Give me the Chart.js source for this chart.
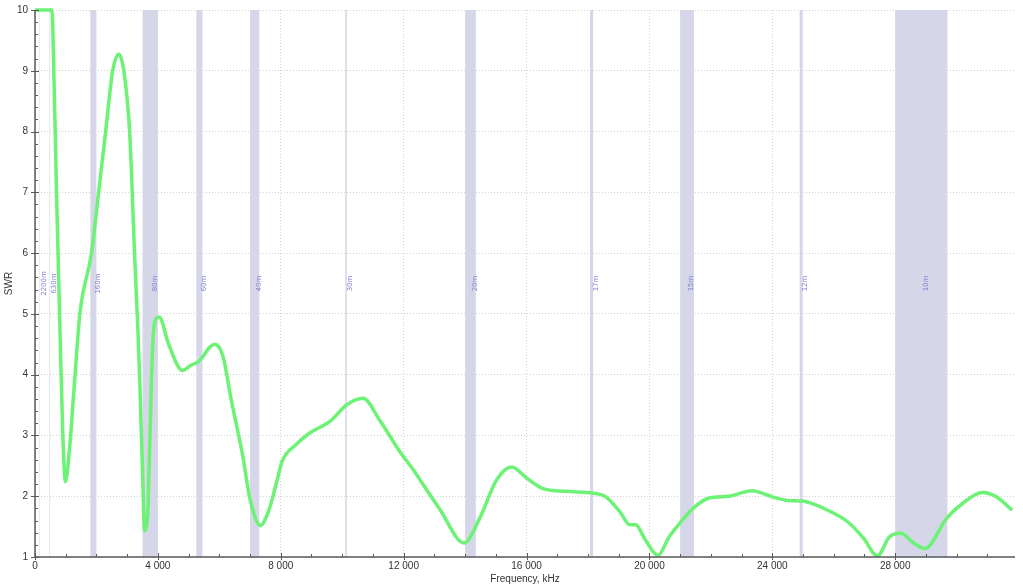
<!DOCTYPE html>
<html>
<head>
<meta charset="utf-8">
<script src="https://cdn.jsdelivr.net/npm/chart.js@4"></script>
<style>
html,body{margin:0;padding:0;background:#fff;overflow:hidden;}
#wrap{width:1023px;height:587px;}
</style>
</head>
<body>
<div id="wrap"><canvas id="c" width="1023" height="587"></canvas></div>
<script>
// ---- data ----
const freqKHz = [0, 300, 550, 580, 700, 820, 900, 990, 1130, 1290, 1460, 1840, 2070, 2300, 2530, 2730, 2890, 3080, 3240, 3350, 3410, 3500, 3570, 3640, 3680, 3790, 3840, 3900, 4040, 4350, 4800, 5090, 5310, 5850, 6120, 6390, 6750, 7000, 7340, 7600, 7850, 8050, 8500, 8940, 9600, 10140, 10680, 11220, 11870, 12320, 12650, 13160, 13970, 14450, 15030, 15520, 16000, 16520, 17290, 18190, 18580, 19030, 19360, 19550, 19870, 20280, 20640, 21030, 21420, 21940, 22580, 23330, 24000, 24520, 24970, 25350, 25800, 26450, 26970, 27420, 27810, 28190, 28580, 28970, 29680, 30190, 30840, 31290, 31810];
const swr     = [10, 10, 10, 9.7, 7.0, 4.6, 3.1, 2.24, 2.82, 3.9, 5.0, 6.0, 7.0, 8.0, 9.0, 9.27, 9.0, 8.0, 6.0, 4.73, 3.9, 2.4, 1.43, 1.55, 1.83, 3.91, 4.57, 4.87, 4.95, 4.5, 4.07, 4.16, 4.21, 4.50, 4.30, 3.58, 2.7, 1.95, 1.52, 1.75, 2.2, 2.58, 2.85, 3.04, 3.23, 3.5, 3.61, 3.25, 2.74, 2.43, 2.18, 1.80, 1.23, 1.61, 2.27, 2.48, 2.30, 2.13, 2.08, 2.05, 1.99, 1.75, 1.53, 1.53, 1.28, 1.03, 1.33, 1.58, 1.80, 1.97, 2.00, 2.09, 1.99, 1.93, 1.92, 1.87, 1.77, 1.58, 1.31, 1.02, 1.33, 1.39, 1.24, 1.14, 1.64, 1.88, 2.06, 1.99, 1.77];
const bandNames = ['2200m', '630m', '160m', '80m', '60m', '40m', '30m', '20m', '17m', '15m', '12m', '10m'];
const bandStart = [135.7, 472, 1800, 3500, 5250, 7000, 10100, 14000, 18068, 21000, 24890, 28000];
const bandEnd   = [137.8, 479, 2000, 4000, 5450, 7300, 10150, 14350, 18168, 21450, 24990, 29700];
const xTickValues = [0, 4000, 8000, 12000, 16000, 20000, 24000, 28000];
const yTickValues = [1, 2, 3, 4, 5, 6, 7, 8, 9, 10];

const points = freqKHz.map((f, i) => ({x: f, y: swr[i]}));
const fmt = v => String(v).replace(/\B(?=(\d{3})+(?!\d))/g, ' ');

const bandPlugin = {
  id: 'bands',
  beforeDatasetsDraw(chart) {
    const {ctx, chartArea: a, scales: {x}} = chart;
    ctx.save();
    bandStart.forEach((s, i) => {
      let x1 = x.getPixelForValue(s), x2 = x.getPixelForValue(bandEnd[i]);
      if (x2 - x1 < 1) {
        const m = (x1 + x2) / 2; x1 = m - 0.5; x2 = m + 0.5;
        ctx.fillStyle = 'rgba(213,215,233,0.6)';
      } else {
        ctx.fillStyle = 'rgb(213,215,233)';
      }
      ctx.fillRect(x1, a.top, x2 - x1, a.bottom - a.top);
    });
    ctx.fillStyle = 'rgb(130,130,205)';
    ctx.font = '7px "DejaVu Sans"';
    ctx.textAlign = 'center';
    ctx.textBaseline = 'middle';
    const cy = (a.top + a.bottom) / 2;
    bandNames.forEach((n, i) => {
      const cx = (x.getPixelForValue(bandStart[i]) + x.getPixelForValue(bandEnd[i])) / 2 + 4.5;
      ctx.save();
      ctx.translate(cx, cy);
      ctx.rotate(-Math.PI / 2);
      ctx.fillText(n, 0, 0);
      ctx.restore();
    });
    ctx.restore();
  }
};

const axesPlugin = {
  id: 'axesDraw',
  afterDatasetsDraw(chart) {
    const {ctx, chartArea: a, scales: {x, y}} = chart;
    ctx.save();
    ctx.strokeStyle = '#5a5a5a';
    ctx.lineWidth = 1;
    // minor ticks
    ctx.beginPath();
    for (let v = 1000; v <= 31000; v += 1000) {
      if (v % 4000 === 0) continue;
      const px = Math.round(x.getPixelForValue(v)) + 0.5;
      ctx.moveTo(px, a.bottom); ctx.lineTo(px, a.bottom - 3);
    }
    for (let v = 1.2; v < 10; v += 0.2) {
      if (Math.abs(v - Math.round(v)) < 0.01) continue;
      const py = Math.round(y.getPixelForValue(v)) + 0.5;
      ctx.moveTo(a.left, py); ctx.lineTo(a.left + 3, py);
    }
    ctx.stroke();
    // major ticks
    ctx.beginPath();
    xTickValues.forEach(v => {
      const px = Math.round(x.getPixelForValue(v)) + 0.5;
      ctx.moveTo(px, a.bottom + 3); ctx.lineTo(px, a.bottom - 4);
    });
    yTickValues.forEach(v => {
      const py = Math.round(y.getPixelForValue(v)) + 0.5;
      ctx.moveTo(a.left - 4, py); ctx.lineTo(a.left + 4, py);
    });
    ctx.stroke();
    // axis lines
    ctx.lineWidth = 1.5;
    ctx.beginPath();
    ctx.moveTo(a.left, a.top); ctx.lineTo(a.left, a.bottom); ctx.lineTo(a.right, a.bottom);
    ctx.stroke();
    ctx.restore();
  }
};

new Chart(document.getElementById('c'), {
  type: 'line',
  data: {
    datasets: [{
      data: points,
      borderColor: 'rgb(108,242,116)',
      borderWidth: 3.5,
      pointRadius: 0,
      fill: false,
      cubicInterpolationMode: 'monotone',
      clip: 3
    }]
  },
  options: {
    responsive: false,
    devicePixelRatio: 1,
    animation: false,
    layout: {padding: {top: 10, right: 8, left: 0, bottom: 0}},
    plugins: {legend: {display: false}, tooltip: {enabled: false}},
    scales: {
      x: {
        type: 'linear',
        min: 0, max: 31900,
        afterBuildTicks: s => { s.ticks = xTickValues.map(v => ({value: v})); },
        afterFit: s => { s.height = 30; s.paddingLeft = 0; s.paddingRight = 0; },
        ticks: {callback: v => fmt(v), maxRotation: 0, autoSkip: false, padding: 3,
                color: '#333', font: {family: 'Liberation Sans', size: 10}},
        grid: {color: 'rgba(200,200,200,0.8)', drawTicks: false, lineWidth: 1},
        border: {display: false, dash: [1, 2]},
        title: {display: true, text: 'Frequency, kHz', color: '#333',
                font: {family: 'Liberation Sans', size: 10}, padding: {top: 0, bottom: 2}}
      },
      y: {
        type: 'linear',
        min: 1, max: 10,
        afterBuildTicks: s => { s.ticks = yTickValues.map(v => ({value: v})); },
        afterFit: s => { s.width = 35; s.paddingTop = 0; s.paddingBottom = 0; },
        ticks: {padding: 7, color: '#333', font: {family: 'Liberation Sans', size: 10}},
        grid: {color: 'rgba(200,200,200,0.8)', drawTicks: false, lineWidth: 1},
        border: {display: false, dash: [1, 2]},
        title: {display: true, text: 'SWR', color: '#333',
                font: {family: 'Liberation Sans', size: 10}, padding: {top: 3, bottom: 0}}
      }
    }
  },
  plugins: [bandPlugin, axesPlugin]
});
</script>
</body>
</html>
